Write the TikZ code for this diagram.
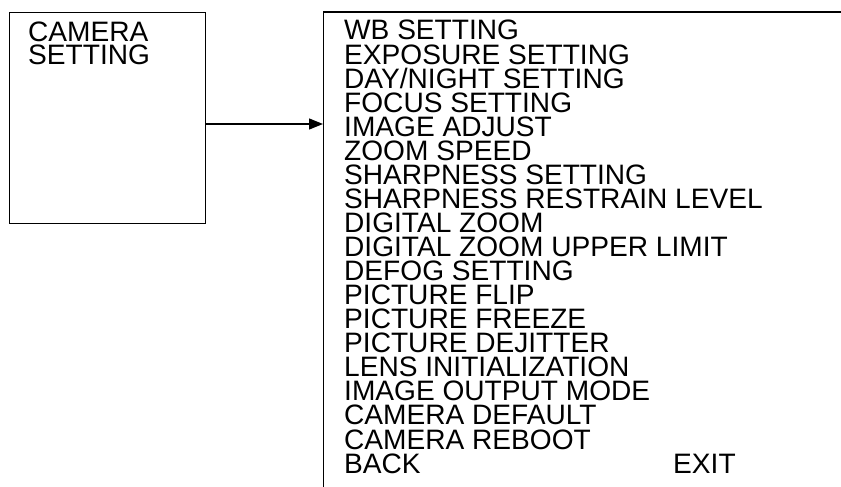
\documentclass[tikz,border=0pt]{standalone}
\usepackage{fontspec}
\setmainfont{Liberation Sans}
\usetikzlibrary{arrows.meta}
\begin{document}
\begin{tikzpicture}[x=1pt,y=-1pt,
  frame/.style={draw=black,line width=1.3pt},
  menutext/.style={anchor=base west,inner sep=0pt,text height=20pt,text depth=3pt,font=\fontsize{28.1}{24}\selectfont},
  arr/.style={line width=1.3pt,-{Triangle[length=14pt,width=11pt]}}]
\useasboundingbox (0,0) rectangle (841,487);
\node[frame,minimum width=196pt,minimum height=211pt,anchor=north west,inner sep=0pt] (cam) at (8.5,12) {};
\node[menutext] (camt1) at (28,42) {CAMERA};
\node[menutext] (camt2) at (28,65) {SETTING};
\coordinate (rtop) at (323.5,12);
\coordinate (rright) at (841,12);
\coordinate (rbot) at (323.5,487);
\draw[frame] (rright) -- (rtop) -- (rbot);
\coordinate (arrend) at (323,124);
\draw[arr] (cam.east |- arrend) -- (arrend);
\foreach \t [count=\i from 0] in {WB SETTING,EXPOSURE SETTING,DAY/NIGHT SETTING,FOCUS SETTING,IMAGE ADJUST,ZOOM SPEED,SHARPNESS SETTING,SHARPNESS RESTRAIN LEVEL,DIGITAL ZOOM,DIGITAL ZOOM UPPER LIMIT,DEFOG SETTING,PICTURE FLIP,PICTURE FREEZE,PICTURE DEJITTER,LENS INITIALIZATION,IMAGE OUTPUT MODE,CAMERA DEFAULT,CAMERA REBOOT,BACK}
  \node[menutext] (m\i) at (344,40+\i*24.06) {\t};
\node[menutext] (exit) at (673,473) {EXIT};
\end{tikzpicture}
\end{document}
